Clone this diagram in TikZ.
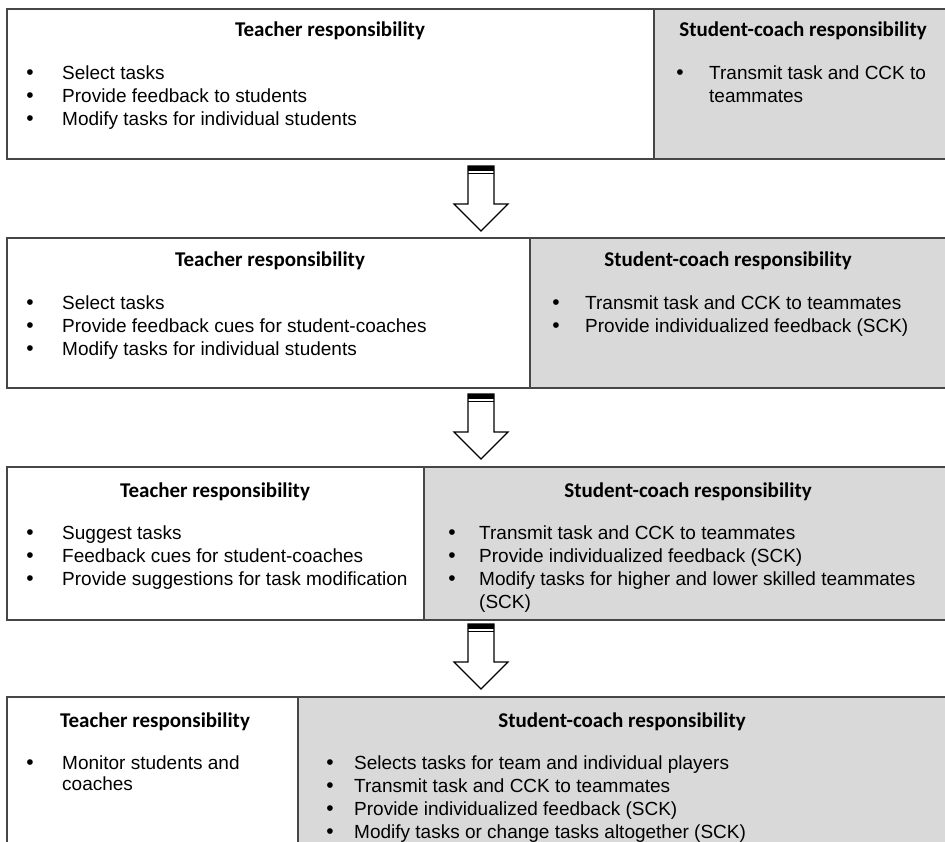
\documentclass[tikz,border=0pt]{standalone}
\usepackage{fontspec}
\setmainfont{Liberation Sans}
\newfontfamily\hdfont{Carlito}
\definecolor{bordergray}{RGB}{70,70,70}
\definecolor{cellgray}{RGB}{217,217,217}
\newcommand\bitem[5]{%
  \node[bul] (#1b) at (#2,#4) {•};
  \node[itm] (#1) at (#3,#4) {#5};}
\newcommand\citem[4]{%
  \node[itm] (#1) at (#2,#3) {#4};}
\newcommand\flowarrow[2]{%
  \draw[arrowline] (468,#2) -- (468,#2+38) -- (454,#2+38) -- (481,#2+65)
     -- (508,#2+38) -- (494,#2+38) -- (494,#2) -- cycle;
  \fill (468,#2) rectangle (494,#2+5);
  \draw[line width=1.2pt] (468,#2+7.5) -- (494,#2+7.5);
  \coordinate (#1) at (481,#2);}
\begin{document}
\begin{tikzpicture}[x=1pt,y=-1pt,
  cell/.style={draw=bordergray,line width=1.4pt,anchor=north west,inner sep=0pt,outer sep=0pt},
  white cell/.style={cell,fill=white},
  gray cell/.style={cell,fill=cellgray},
  hd/.style={font=\hdfont\bfseries\fontsize{21}{25}\selectfont,anchor=base,inner sep=0pt},
  itm/.style={font=\fontsize{19}{23}\selectfont,anchor=base west,inner sep=0pt},
  bul/.style={font=\fontsize{21}{23}\selectfont,anchor=base,inner sep=0pt},
  arrowline/.style={draw=black,line width=1.2pt,fill=white,line join=miter}]
\useasboundingbox (0,0) rectangle (945,842);
% ---------- box 1
\node[white cell,minimum width=647pt,minimum height=150pt] (c1l) at (7,9) {};
\node[gray cell,minimum width=292pt,minimum height=150pt] (c1r) at (654,9) {};
\node[hd] (h1l) at (330,37) {Teacher responsibility};
\node[hd] (h1r) at (803,37) {Student-coach responsibility};
\bitem{a1}{30}{62}{80}{Select tasks}
\bitem{a2}{30}{62}{103}{Provide feedback to students}
\bitem{a3}{30}{62}{126}{Modify tasks for individual students}
\bitem{a4}{680}{709}{80}{Transmit task and CCK to}
\citem{a5}{709}{103}{teammates}
% ---------- arrow 1
\flowarrow{ar1}{166}
% ---------- box 2
\node[white cell,minimum width=523pt,minimum height=150pt] (c2l) at (7,238) {};
\node[gray cell,minimum width=416pt,minimum height=150pt] (c2r) at (530,238) {};
\node[hd] (h2l) at (270,267) {Teacher responsibility};
\node[hd] (h2r) at (728,267) {Student-coach responsibility};
\bitem{b1}{30}{62}{309}{Select tasks}
\bitem{b2}{30}{62}{332}{Provide feedback cues for student-coaches}
\bitem{b3}{30}{62}{355}{Modify tasks for individual students}
\bitem{b4}{556}{585}{309}{Transmit task and CCK to teammates}
\bitem{b5}{556}{585}{332}{Provide individualized feedback (SCK)}
% ---------- arrow 2
\flowarrow{ar2}{394}
% ---------- box 3
\node[white cell,minimum width=417pt,minimum height=153pt] (c3l) at (7,467) {};
\node[gray cell,minimum width=522pt,minimum height=153pt] (c3r) at (424,467) {};
\node[hd] (h3l) at (215,497) {Teacher responsibility};
\node[hd] (h3r) at (688,497) {Student-coach responsibility};
\bitem{c1}{30}{62}{539}{Suggest tasks}
\bitem{c2}{30}{62}{562}{Feedback cues for student-coaches}
\bitem{c3}{30}{62}{585}{Provide suggestions for task modification}
\bitem{c4}{452}{479}{539}{Transmit task and CCK to teammates}
\bitem{c5}{452}{479}{562}{Provide individualized feedback (SCK)}
\bitem{c6}{452}{479}{585}{Modify tasks for higher and lower skilled teammates}
\citem{c7}{479}{608}{(SCK)}
% ---------- arrow 3
\flowarrow{ar3}{624}
% ---------- box 4
\node[white cell,minimum width=291pt,minimum height=155pt] (c4l) at (7,697) {};
\node[gray cell,minimum width=648pt,minimum height=155pt] (c4r) at (298,697) {};
\node[hd] (h4l) at (155,727) {Teacher responsibility};
\node[hd] (h4r) at (622,727) {Student-coach responsibility};
\bitem{d1}{30}{62}{769}{Monitor students and}
\citem{d2}{62}{790}{coaches}
\bitem{d3}{330}{354}{769}{Selects tasks for team and individual players}
\bitem{d4}{330}{354}{792}{Transmit task and CCK to teammates}
\bitem{d5}{330}{354}{815}{Provide individualized feedback (SCK)}
\bitem{d6}{330}{354}{838}{Modify tasks or change tasks altogether (SCK)}
\end{tikzpicture}
\end{document}
